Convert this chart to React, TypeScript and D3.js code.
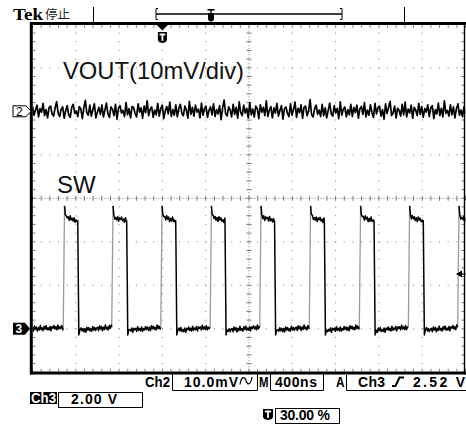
import React from "react";
import * as d3 from "d3";

const timeDivNs = 400; // M 400ns
const divisionsX = 10;
const ch2OffsetDiv = 2; // Ch2 ground marker, 2 div above centre
const ch2MvPerDiv = 10; // 10.0mV/div
const ch3OffsetDiv = -3; // Ch3 ground marker, 3 div below centre
const ch3VPerDiv = 2; // 2.00 V/div
const triggerPct = 30; // 30.00 %
const triggerLevelV = 2.52; // A Ch3 rising 2.52 V

// SW edges (ns from the left edge of the screen)
const riseNs = [284, 732, 1185, 1641, 2099, 2557, 3019, 3472, 3928];
const fallNs = [418, 870, 1323, 1778, 2236, 2696, 3155, 3610];
const swRiseNs = 12;
const swFallNs = 10;
const swOvershootV = 5.65;
const swRingV = 5.25;
const swHighStartV = 5.12;
const swHighEndV = 4.97;
const swUndershootV = -0.28;
const swLowStartV = -0.06;
const swLowEndV = 0.07;

// SW ripple on the flat levels (V)
const swRipple_V = [
  0.06, -0.1, 0.12, -0.03, 0.08, -0.12, 0.04, -0.07, 0.13, -0.06, 0.02, -0.11, 0.09, -0.04, 0.11, -0.08,
  0.01, -0.09, 0.07, -0.13, 0.05, -0.02, 0.1, -0.06, 0.04, -0.1, 0.12, -0.07, 0.03, -0.05, 0.09, -0.12,
  0.07, -0.01, 0.06, -0.09, 0.13, -0.05, 0.04, -0.08, 0.09, -0.11, 0.02, -0.06, 0.1, -0.04, 0.07, -0.09,
  0.05, -0.12, 0.11, -0.03, 0.08, -0.07, 0.02, -0.1, 0.12, -0.05, 0.06, -0.08, 0.03,
];

// VOUT ripple/noise samples (mV), across the 4 us screen
const voutRipple_mV = [
  1.1, -0.9, 0.3, 1.4, -1.3, 0.6, -0.2, 1.8, -1.0, 0.4, -1.5, 0.9, 1.2, -0.6, -1.1, 0.8, 2.2, -0.4, -1.2, 0.5, 1.0, -1.6, 0.2, 1.3,
  -0.8, -1.4, 0.9, 1.6, -0.5, 0.1, -1.2, 1.1, 0.6, -1.7, 0.8, 2.5, -0.3, -0.9, 1.4, -1.1, 0.4, 1.7, -1.5, -0.2, 0.9, -0.7, 1.5, -1.3,
  0.3, 1.9, -0.6, -1.4, 1.0, 0.5, -1.0, 1.6, -1.8, 0.7, 1.3, -0.4, 0.2, -1.2, 2.0, -0.8, 0.6, -1.5, 1.1, 0.9, -0.5, -1.3, 1.7, -0.2,
  0.8, -1.6, 1.2, -0.3, 2.4, -1.0, 0.5, 1.0, -1.4, 0.3, -0.8, 1.8, -1.1, 0.6, 1.4, -1.7, 0.1, 1.1, -0.6, 2.1, -1.2, 0.4, -0.9, 1.5,
  -1.3, 0.7, 1.6, -0.5, -1.0, 1.2, 0.3, -1.6, 2.3, -0.7, 0.9, -1.1, 1.4, -0.2, 0.5, -1.5, 1.9, -0.9, 0.6, 1.2, -1.4, 0.2, 1.0, -0.8,
  1.7, -1.2, 0.4, -0.6, 1.3, -1.9, 0.8, 2.6, -0.5, -1.1, 1.0, 0.3, -1.3, 1.6, -0.7, 0.9, -1.6, 2.2, -0.3, -1.0, 1.4, -0.4, 0.7, -1.5,
  2.0, -0.8, 0.5, -1.3, 1.2, 0.6, -1.7, 1.5, -0.2, 0.9, -1.0, 2.4, -1.2, 0.3, 1.1, -1.5, 0.8, -0.4, 1.8, -1.1, 0.2, 1.3, -1.8, 0.6,
  1.0, -0.5, -1.2, 1.7, -0.9, 0.4, 2.1, -1.4, 0.7, -0.3, 1.5, -1.6, 0.9, 1.2, -1.0, 0.1, 2.7, -0.8, -1.3, 0.6, 1.4, -0.7, 0.3, -1.2,
  1.6, -1.0, 0.8, -1.5, 0.2, 1.9, -0.6, -1.1, 1.3, -0.4, 0.7, -1.7, 2.2, -0.9, 0.5, 1.0, -1.3, 0.4, -0.8, 1.6, -1.2, 0.9, -0.3, 1.4,
  -1.6, 0.6, 1.1, -0.7, 2.0, -1.3, 0.3, -0.9, 1.5, -0.2, -1.4, 1.8, -0.6, 0.8, 1.2, -1.1, 0.4, -1.8, 1.7, -0.5, 0.9, 2.3, -1.0, -0.4,
  1.2, -1.5, 0.7, 0.2, -1.1, 1.6, -0.8, 2.1, -1.3, 0.5, -0.4, 1.4, -1.6, 0.9, 0.3, -1.0, 1.8, -0.7, 1.1, -1.4, 0.6, -0.2, 1.5, -1.2,
  0.8, 1.3, -1.7, 0.4, -0.6, 1.9, -1.0, 0.7, -1.3, 2.4, -0.5, 0.2, -1.1, 1.5, -0.8, 1.0, -1.5, 0.6, 1.7, -0.9, 0.3, -1.2, 1.1, -0.6,
];

const titleLabels = ["VOUT(10mV/div)", "SW"];
const statusRow1 = { ch: "Ch2", scale: "10.0mV", m: "M", time: "400ns", a: "A", src: "Ch3", level: "2.52 V" };
const statusRow2 = { ch: "Ch3", scale: "2.00 V" };
const statusRow3 = "30.00 %";

type Pt = [number, number];

const SANS = "'Liberation Sans', Arial, Helvetica, sans-serif";
const GRID = "#7a7a7a";

function Shield({ cx, top, w, h }: { cx: number; top: number; w: number; h: number }) {
  const l = cx - w / 2;
  const r = cx + w / 2;
  const b = top + h;
  return (
    <g>
      <path d={`M${l},${top} H${r} V${b - 3} Q${r},${b} ${cx},${b + 0.5} Q${l},${b} ${l},${b - 3} Z`} fill="#000" />
      <rect x={cx - w * 0.32} y={top + 1.6} width={w * 0.64} height={1.8} fill="#fff" />
      <rect x={cx - 0.9} y={top + 1.6} width={1.8} height={h - 3.2} fill="#fff" />
    </g>
  );
}

export default function App() {
  const L = 32.5, R = 465.5, T = 24.3, B = 372.3;
  const xd = d3.scaleLinear().domain([0, divisionsX]).range([L, R]);
  const x = d3.scaleLinear().domain([0, timeDivNs * divisionsX]).range([L, R]);
  const yDiv = d3.scaleLinear().domain([-4, 4]).range([B, T]);
  const ch2Y = (mv: number) => yDiv(ch2OffsetDiv + mv / ch2MvPerDiv);
  const ch3Y = (v: number) => yDiv(ch3OffsetDiv + v / ch3VPerDiv);
  const spanNs = timeDivNs * divisionsX;

  // ----- grid -----
  const minorX = d3.range(0, 50 + 1).map((i) => i / 5);
  const minorY = d3.range(0, 40 + 1).map((i) => -4 + i / 5);
  const dots: Pt[] = [];
  for (let d = 1; d <= 9; d++) {
    if (d === 5) continue;
    minorY.slice(1, -1).forEach((m) => dots.push([xd(d), yDiv(m)]));
  }
  for (let h = -3; h <= 3; h++) {
    if (h === 0) continue;
    minorX.slice(1, -1).forEach((m) => dots.push([xd(m), yDiv(h)]));
  }

  // ----- VOUT trace -----
  const line = d3.line<Pt>().x((p) => x(p[0])).y((p) => p[1]);
  const voutPts: Pt[] = voutRipple_mV.map((v, i) => [(i * spanNs) / (voutRipple_mV.length - 1), ch2Y(v)]);

  // ----- SW trace -----
  const blackSegs: Pt[][] = [];
  const graySegs: Pt[][] = [];
  let k = 0;
  const rip = () => swRipple_V[k++ % swRipple_V.length];
  const step = 9;
  const pushLevel = (seg: Pt[], t0: number, t1: number, v0: number, v1: number) => {
    for (let t = t0; t < t1; t += step) {
      const f = (t - t0) / Math.max(1, t1 - t0);
      seg.push([t, ch3Y(v0 + (v1 - v0) * f + rip())]);
    }
  };
  let seg: Pt[] = [];
  pushLevel(seg, 0, riseNs[0], 0.0, swLowEndV);
  seg.push([riseNs[0], ch3Y(swLowEndV)]);
  blackSegs.push(seg);
  riseNs.forEach((r, i) => {
    graySegs.push([
      [r, ch3Y(swLowEndV)],
      [r + swRiseNs, ch3Y(swOvershootV)],
    ]);
    const s: Pt[] = [
      [r + swRiseNs, ch3Y(swOvershootV)],
      [r + swRiseNs + 7, ch3Y(swRingV)],
    ];
    const f = i < fallNs.length ? fallNs[i] : spanNs + 20;
    pushLevel(s, r + swRiseNs + 16, f, swHighStartV, swHighEndV);
    if (i < fallNs.length) {
      s.push([f, ch3Y(swHighEndV)]);
      s.push([f + swFallNs, ch3Y(swUndershootV)]);
      s.push([f + swFallNs + 9, ch3Y(swLowStartV)]);
      const nr = riseNs[i + 1];
      pushLevel(s, f + swFallNs + 20, nr, swLowStartV, swLowEndV);
      s.push([nr, ch3Y(swLowEndV)]);
    }
    blackSegs.push(s);
  });

  const trigX = L + ((R - L) * triggerPct) / 100;
  const trigLevelY = ch3Y(triggerLevelV);

  React.useEffect(() => {
    document.body.style.margin = "0";
  }, []);

  return (
    <svg
      width={466}
      height={428}
      viewBox="0 0 466 428"
      style={{ position: "absolute", left: 0, top: 0, background: "#fff", display: "block" }}
    >
      <rect x={0} y={0} width={466} height={428} fill="#fff" />
      <defs>
        <clipPath id="plot">
          <rect x={L} y={T} width={R - L} height={B - T} />
        </clipPath>
      </defs>

      {/* header */}
      <text x={13} y={19.5} fontFamily="'Liberation Serif', 'Times New Roman', serif" fontWeight="bold" fontSize={17} textLength={30} lengthAdjust="spacingAndGlyphs">
        Tek
      </text>
      <text x={45} y={19} fontFamily="'Noto Sans CJK SC', sans-serif" fontSize={12.5} fill="#222" textLength={25} lengthAdjust="spacingAndGlyphs">
        停止
      </text>
      <line x1={93.5} x2={93.5} y1={7} y2={22} stroke="#000" strokeWidth={1} />
      <line x1={404.5} x2={404.5} y1={7} y2={22} stroke="#000" strokeWidth={1} />
      {/* record bracket */}
      <path d="M158,8.5 H156 V19.5 H158" fill="none" stroke="#000" strokeWidth={1} />
      <path d="M340,8.5 H342 V19.5 H340" fill="none" stroke="#000" strokeWidth={1} />
      <line x1={156} x2={342} y1={14} y2={14} stroke="#000" strokeWidth={1.4} />
      <g>
        <rect x={207.5} y={9} width={7} height={1.6} fill="#000" />
        <rect x={210.3} y={9} width={1.4} height={4} fill="#000" />
        <path d="M208,13 H214 V18.5 Q214,21 211,21.5 Q208,21 208,18.5 Z" fill="#000" />
      </g>

      {/* grid dots */}
      {dots.map((p, i) => (
        <rect key={i} x={p[0] - 0.5} y={p[1] - 0.5} width={1} height={1} fill={GRID} />
      ))}
      {/* centre cross */}
      <line x1={xd(5)} x2={xd(5)} y1={T} y2={B} stroke={GRID} strokeWidth={1} strokeDasharray="1 2" />
      <line x1={L} x2={R} y1={yDiv(0)} y2={yDiv(0)} stroke={GRID} strokeWidth={1} strokeDasharray="1 2" />
      {minorY.map((m, i) => (
        <line key={"cy" + i} x1={xd(5) - 2.5} x2={xd(5) + 2.5} y1={yDiv(m)} y2={yDiv(m)} stroke={GRID} strokeWidth={1} />
      ))}
      {minorX.map((m, i) => (
        <line key={"cx" + i} x1={xd(m)} x2={xd(m)} y1={yDiv(0) - 2.5} y2={yDiv(0) + 2.5} stroke={GRID} strokeWidth={1} />
      ))}
      {/* border ticks */}
      {minorX.map((m, i) => (
        <g key={"bt" + i}>
          <line x1={xd(m)} x2={xd(m)} y1={T + 1} y2={T + 3.5} stroke={GRID} strokeWidth={1} />
          <line x1={xd(m)} x2={xd(m)} y1={B - 1} y2={B - 3.5} stroke={GRID} strokeWidth={1} />
        </g>
      ))}
      {minorY.map((m, i) => (
        <g key={"bl" + i}>
          <line x1={L + 0.5} x2={L + 3} y1={yDiv(m)} y2={yDiv(m)} stroke={GRID} strokeWidth={1} />
          <line x1={R - 1.5} x2={R - 4} y1={yDiv(m)} y2={yDiv(m)} stroke={GRID} strokeWidth={1} />
        </g>
      ))}

      {/* borders */}
      <line x1={30} x2={466} y1={23.6} y2={23.6} stroke="#000" strokeWidth={3} />
      <line x1={30} x2={466} y1={373} y2={373} stroke="#000" strokeWidth={3} />
      <line x1={31.3} x2={31.3} y1={22} y2={374.5} stroke="#000" strokeWidth={3} />
      <line x1={464.5} x2={464.5} y1={22} y2={374.5} stroke="#000" strokeWidth={1.4} />

      {/* labels */}
      <text x={63} y={79} fontFamily={SANS} fontSize={24} fill="#111" textLength={181} lengthAdjust="spacingAndGlyphs">
        {titleLabels[0]}
      </text>
      <text x={57} y={193} fontFamily={SANS} fontSize={24} fill="#111">
        {titleLabels[1]}
      </text>

      {/* traces */}
      <g clipPath="url(#plot)">
        <path d={line(voutPts) || ""} fill="none" stroke="#000" strokeWidth={1.7} strokeLinejoin="round" />
        {graySegs.map((s, i) => (
          <path key={"g" + i} d={line(s) || ""} fill="none" stroke="#9a9a9a" strokeWidth={1.3} />
        ))}
        {blackSegs.map((s, i) => (
          <path key={"b" + i} d={line(s) || ""} fill="none" stroke="#000" strokeWidth={1.5} strokeLinejoin="round" />
        ))}
      </g>

      {/* trigger position marker */}
      <path d={`M${trigX - 5.5},25 H${trigX + 5.5} L${trigX},30.5 Z`} fill="#000" />
      <Shield cx={trigX} top={32} w={9} h={10.5} />

      {/* trigger level arrow */}
      <path d={`M456,${trigLevelY} L462,${trigLevelY - 3.5} L462,${trigLevelY + 3.5} Z`} fill="#000" />
      <line x1={461} x2={466} y1={trigLevelY} y2={trigLevelY} stroke="#000" strokeWidth={1.2} />

      {/* channel markers */}
      <path d={`M13,${ch2Y(0) - 5.5} H26 L31,${ch2Y(0)} L26,${ch2Y(0) + 5.5} H13 Z`} fill="#fff" stroke="#000" strokeWidth={1} />
      <text x={16} y={ch2Y(0) + 4.2} fontFamily={SANS} fontSize={12} fill="#000">
        2
      </text>
      <path d={`M13,${ch3Y(0) - 6} H25 L30,${ch3Y(0)} L25,${ch3Y(0) + 6} H13 Z`} fill="#000" />
      <text x={15.5} y={ch3Y(0) + 4.3} fontFamily={SANS} fontWeight="bold" fontSize={12} fill="#fff">
        3
      </text>

      {/* status row 1 */}
      <g fontFamily={SANS} fontWeight="bold" fontSize={14} fill="#000">
        <text x={145} y={387} textLength={25} lengthAdjust="spacingAndGlyphs">{statusRow1.ch}</text>
        <path d="M172.5,374 V390.5 H257.5 V374" fill="none" stroke="#000" strokeWidth={1} />
        <text x={184} y={387} textLength={54} lengthAdjust="spacing">{statusRow1.scale}</text>
        <path d="M240,384.5 C241.5,376 244.5,376 246,380.5 C247.5,385.5 250.5,385.5 252,377" fill="none" stroke="#000" strokeWidth={1.2} />
        <text x={259} y={387} textLength={9.5} lengthAdjust="spacingAndGlyphs">{statusRow1.m}</text>
        <path d="M270.5,374 V390.5 H323.5 V374" fill="none" stroke="#000" strokeWidth={1} />
        <text x={275} y={387} textLength={42} lengthAdjust="spacing">{statusRow1.time}</text>
        <text x={336} y={387} textLength={8.5} lengthAdjust="spacingAndGlyphs">{statusRow1.a}</text>
        <path d="M346.5,375 V390.5 H470" fill="none" stroke="#000" strokeWidth={1} />
        <text x={358} y={387} textLength={27} lengthAdjust="spacing">{statusRow1.src}</text>
        <path d="M392,386 H395.5 L399.5,377.5 H404" fill="none" stroke="#000" strokeWidth={2} />
        <text x={413} y={387} textLength={52} lengthAdjust="spacing">{statusRow1.level}</text>

        {/* row 2 */}
        <rect x={30} y={392} width={27} height={12} fill="#000" />
        <text x={31} y={403} fill="#fff" textLength={25} lengthAdjust="spacingAndGlyphs">{statusRow2.ch}</text>
        <rect x={58.5} y={392.5} width={84} height={15} fill="none" stroke="#000" strokeWidth={1} />
        <text x={71} y={403.5} textLength={46} lengthAdjust="spacing">{statusRow2.scale}</text>

        {/* row 3 */}
        <rect x={275.5} y={408.5} width={64} height={15} fill="none" stroke="#000" strokeWidth={1} />
        <text x={280} y={420} textLength={50} lengthAdjust="spacing">{statusRow3}</text>
      </g>
      <Shield cx={268} top={409} w={10} h={10.5} />
    </svg>
  );
}
